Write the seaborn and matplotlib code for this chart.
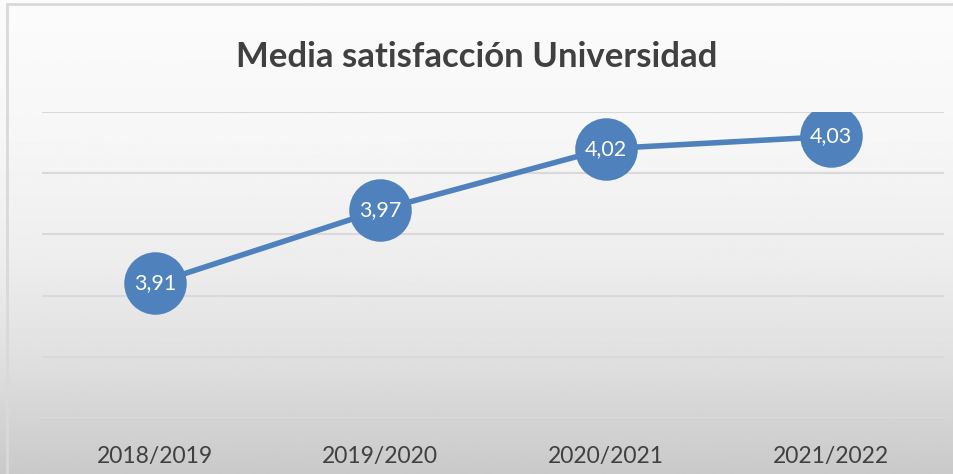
import numpy as np
import pandas as pd
import seaborn as sns
import matplotlib.pyplot as plt
from matplotlib.patches import Rectangle

# Datos
cursos = ["2018/2019", "2019/2020", "2020/2021", "2021/2022"]
media = [3.91, 3.97, 4.02, 4.03]
etiquetas = ["3,91", "3,97", "4,02", "4,03"]

df = pd.DataFrame({"curso": cursos, "media": media})

sns.set_theme(style="white")
plt.rcParams['font.family'] = ['Lato', 'DejaVu Sans']

W, H = 954, 474
fig = plt.figure(figsize=(W / 100, H / 100), dpi=100)

# fondo con degradado (estilo Excel)
bg = fig.add_axes([0, 0, 1, 1], zorder=0)
ys = np.linspace(0, 1, 256)
stops_y = [0.0, 0.3, 0.55, 0.75, 1.0]
stops_v = [0.985, 0.965, 0.93, 0.88, 0.79]
grad = np.interp(ys, stops_y, stops_v)
img = np.repeat(grad[:, None], 2, axis=1)
bg.imshow(img, aspect='auto', cmap='gray', vmin=0, vmax=1, extent=[0, 1, 1, 0])
bg.set_xlim(0, 1)
bg.set_ylim(1, 0)
bg.axis('off')
bg.add_patch(Rectangle((7 / W, -0.1), 1.2, 1 - 4 / H + 0.1, fill=False,
                       edgecolor='#d9d9d9', linewidth=2, transform=bg.transAxes))

ax = fig.add_axes([42 / W, (H - 418) / H, (944 - 42) / W, (418 - 112) / H], zorder=1)
ax.patch.set_alpha(0)

sns.lineplot(data=df, x="curso", y="media", ax=ax, color='#4f81bd', linewidth=4,
             marker='o', markersize=45, markeredgewidth=0, sort=False)

for i, (v, t) in enumerate(zip(media, etiquetas)):
    ax.text(i, v, t, ha='center', va='center', color='white', fontsize=15.5, zorder=5)

ax.set_ylim(3.80, 4.05)
ax.set_yticks(np.arange(3.80, 4.051, 0.05))
ax.set_xlim(-0.5, 3.5)
ax.yaxis.grid(True, color='#d9d9d9', linewidth=1.5)
ax.set_axisbelow(True)
ax.tick_params(axis='y', left=False, labelleft=False)
ax.tick_params(axis='x', bottom=False, labelsize=16.5, labelcolor='#404040', pad=14)
for s in ax.spines.values():
    s.set_visible(False)
ax.set_xlabel("")
ax.set_ylabel("")

fig.text(0.5, (H - 57) / H, "Media satisfacción Universidad", ha='center', va='center',
         fontsize=25, fontweight='bold', color='#404040')

fig.savefig("out.png", dpi=100)
